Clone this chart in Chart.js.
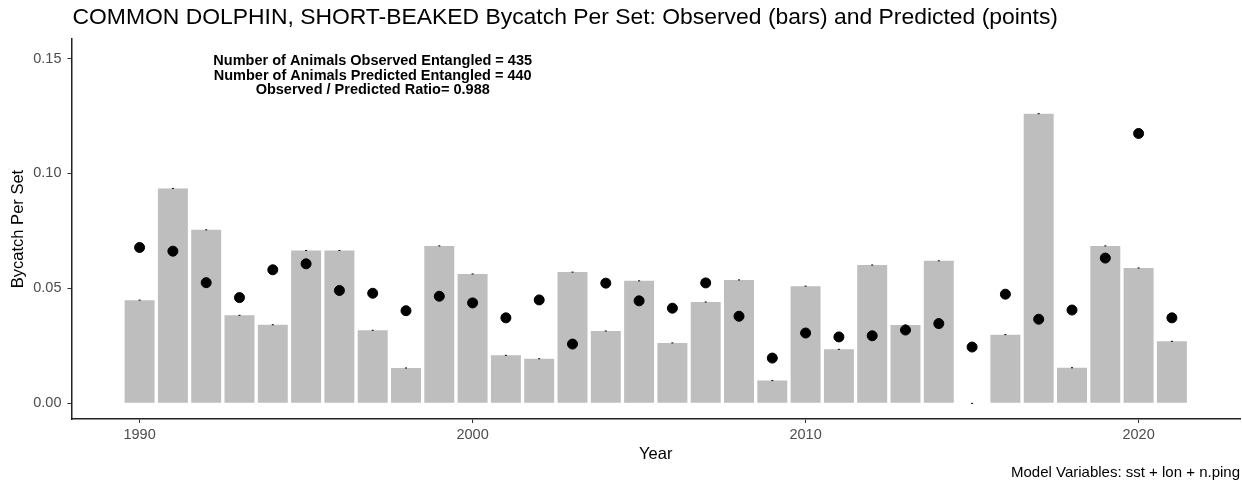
<!DOCTYPE html>
<html>
<head>
<meta charset="utf-8">
<script src="https://cdn.jsdelivr.net/npm/chart.js@4.4.1/dist/chart.umd.min.js"></script>
<style>
  html, body { margin: 0; padding: 0; background: #fff; }
  #wrap { width: 1242px; height: 490px; }
</style>
</head>
<body>
<div id="wrap"><canvas id="chart"></canvas></div>
<script>
const years = [1990, 1991, 1992, 1993, 1994, 1995, 1996, 1997, 1998, 1999,
               2000, 2001, 2002, 2003, 2004, 2005, 2006, 2007, 2008, 2009,
               2010, 2011, 2012, 2013, 2014, 2015, 2016, 2017, 2018, 2019,
               2020, 2021];
// observed bycatch per set (bars)
const observed = [0.0449, 0.0935, 0.0755, 0.0383, 0.0342, 0.0665, 0.0665, 0.0318, 0.0154, 0.0685,
                  0.0563, 0.0209, 0.0194, 0.0571, 0.0315, 0.0533, 0.0263, 0.0441, 0.0537, 0.0099,
                  0.0510, 0.0235, 0.0602, 0.0341, 0.0620, 0.0000, 0.0299, 0.1260, 0.0155, 0.0685,
                  0.0589, 0.0270];
// predicted bycatch per set (points)
const predicted = [0.0678, 0.0662, 0.0525, 0.0460, 0.0581, 0.0607, 0.0491, 0.0479, 0.0403, 0.0466,
                   0.0437, 0.0372, 0.0450, 0.0258, 0.0523, 0.0446, 0.0414, 0.0524, 0.0379, 0.0197,
                   0.0306, 0.0289, 0.0294, 0.0319, 0.0347, 0.0245, 0.0475, 0.0366, 0.0406, 0.0632,
                   0.1174, 0.0372];
const xTicks = [1990, 2000, 2010, 2020];
const yTicks = [0, 0.05, 0.10, 0.15];

const titleText = "COMMON DOLPHIN, SHORT-BEAKED Bycatch Per Set: Observed (bars) and Predicted (points)";
const noteLines = [
  "Number of Animals Observed Entangled = 435",
  "Number of Animals Predicted Entangled = 440",
  "Observed / Predicted Ratio= 0.988"
];
const noteAt = { x: 1997, y: 0.1425 };
const captionText = "Model Variables: sst + lon + n.ping";

const FONT = '"Liberation Sans", Arial, sans-serif';
Chart.defaults.font.family = FONT;

// title, annotation and caption are drawn on the canvas after the chart
const textPlugin = {
  id: 'texts',
  afterDraw(chart) {
    const ctx = chart.ctx;
    const area = chart.chartArea;
    ctx.save();
    ctx.fillStyle = '#000';
    ctx.textBaseline = 'alphabetic';

    ctx.font = '22.9px ' + FONT;
    ctx.textAlign = 'left';
    ctx.fillText(titleText, area.left + 1, 24);

    ctx.font = 'bold 14.5px ' + FONT;
    ctx.textAlign = 'center';
    ctx.textBaseline = 'middle';
    const nx = chart.scales.x.getPixelForValue(noteAt.x);
    const ny = chart.scales.y.getPixelForValue(noteAt.y);
    noteLines.forEach((line, i) => ctx.fillText(line, nx, ny + (i - 1) * 14.5));

    ctx.font = '15px ' + FONT;
    ctx.textAlign = 'right';
    ctx.textBaseline = 'alphabetic';
    ctx.fillText(captionText, area.right, 477);
    ctx.restore();
  }
};

const ctx = document.getElementById('chart').getContext('2d');
const chart = new Chart(ctx, {
  type: 'bar',
  data: {
    datasets: [
      {
        type: 'scatter',
        label: 'Predicted',
        data: years.map((y, i) => ({ x: y, y: predicted[i] })),
        backgroundColor: '#000',
        borderColor: '#000',
        pointRadius: 5,
        pointHoverRadius: 5,
        order: 0
      },
      {
        type: 'scatter',
        label: 'Observed tick',
        data: years.map((y, i) => ({ x: y, y: observed[i] })),
        pointStyle: 'line',
        borderColor: '#000',
        borderWidth: 1,
        pointRadius: 1,
        order: 1
      },
      {
        label: 'Observed',
        data: years.map((y, i) => ({ x: y, y: observed[i] })),
        backgroundColor: '#bebebe',
        borderWidth: 0,
        barPercentage: 0.9,
        categoryPercentage: 1.0,
        order: 2
      }
    ]
  },
  options: {
    responsive: true,
    maintainAspectRatio: false,
    animation: false,
    layout: { autoPadding: false, padding: { top: 39, right: 2, bottom: 0, left: 0 } },
    plugins: {
      legend: { display: false },
      tooltip: { enabled: false },
      title: { display: false }
    },
    scales: {
      x: {
        type: 'linear',
        offset: false,
        min: 1987.955,
        max: 2023.045,
        afterBuildTicks: s => { s.ticks = xTicks.map(v => ({ value: v })); },
        afterFit: s => { s.height = 71; s.paddingLeft = 0; s.paddingRight = 0; },
        grid: { display: true, offset: false, drawOnChartArea: false, tickLength: 4, tickColor: '#333', tickWidth: 1 },
        border: { display: true, color: '#222', width: 1.5 },
        ticks: { color: '#4d4d4d', font: { size: 14.5 }, padding: 3, maxRotation: 0, callback: v => String(v) },
        title: { display: true, text: 'Year', color: '#000', font: { size: 16.5 }, padding: { top: 0, bottom: 26 } }
      },
      y: {
        min: -0.0068,
        max: 0.1585,
        afterBuildTicks: s => { s.ticks = yTicks.map(v => ({ value: v })); },
        afterFit: s => { s.width = 71.5; },
        grid: { display: true, drawOnChartArea: false, tickLength: 4, tickColor: '#333', tickWidth: 1 },
        border: { display: true, color: '#222', width: 1.5 },
        ticks: { color: '#4d4d4d', font: { size: 14.5 }, padding: 6, callback: v => v.toFixed(2) },
        title: { display: true, text: 'Bycatch Per Set', color: '#000', font: { size: 16.5 }, padding: { top: 9, bottom: 0 } }
      }
    }
  },
  plugins: [textPlugin]
});
</script>
</body>
</html>
